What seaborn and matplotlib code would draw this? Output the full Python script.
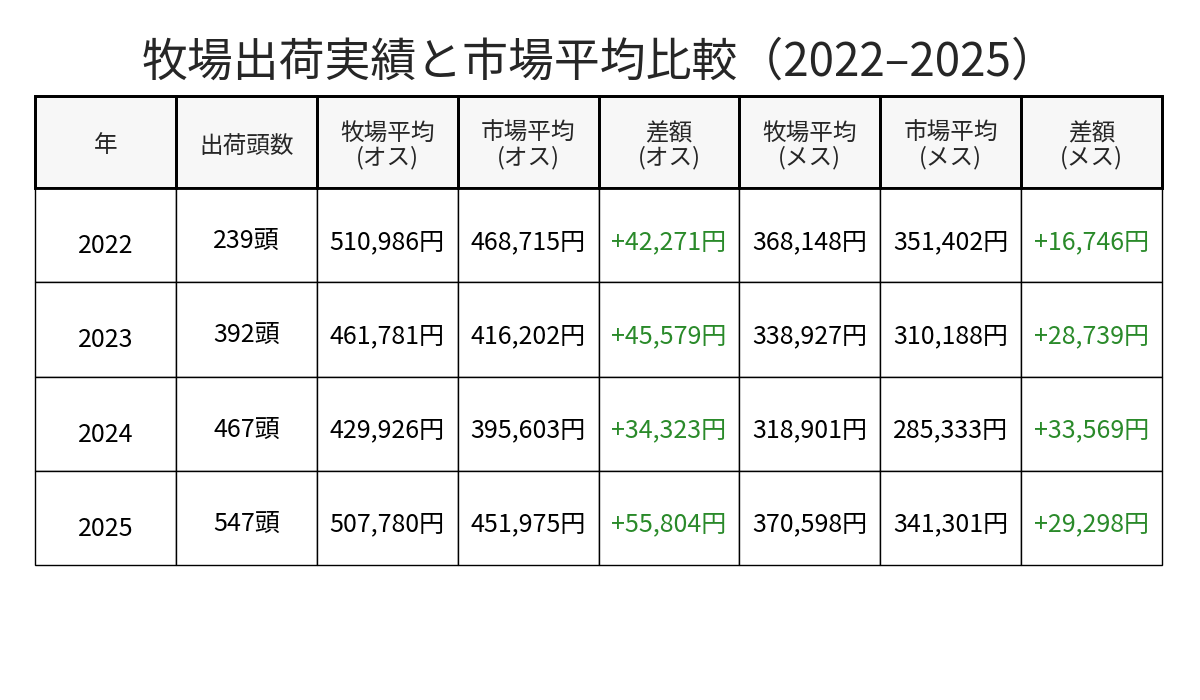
import matplotlib
matplotlib.use("Agg")
import matplotlib.pyplot as plt
import seaborn as sns
from matplotlib.patches import Rectangle

sns.set_theme(style="white")
plt.rcParams['font.family'] = ['Noto Sans CJK JP', 'DejaVu Sans']

# data
headers = ["年", "出荷頭数", "牧場平均\n(オス)", "市場平均\n(オス)", "差額\n(オス)",
           "牧場平均\n(メス)", "市場平均\n(メス)", "差額\n(メス)"]
years = [2022, 2023, 2024, 2025]
heads = [239, 392, 467, 547]
farm_male = [510986, 461781, 429926, 507780]
market_male = [468715, 416202, 395603, 451975]
diff_male = [42271, 45579, 34323, 55804]
farm_female = [368148, 338927, 318901, 370598]
market_female = [351402, 310188, 285333, 341301]
diff_female = [16746, 28739, 33569, 29298]

fig = plt.figure(figsize=(12, 7), dpi=100)
ax = fig.add_axes([0, 0, 1, 1])
ax.set_xlim(0, 1200)
ax.set_ylim(700, 0)
ax.axis("off")

fig.text(0.5, 1 - 62 / 700, "牧場出荷実績と市場平均比較（2022–2025）",
         ha="center", va="center", fontsize=33)

x0, x1 = 35, 1162
ncol = len(headers)
cw = (x1 - x0) / ncol
top, hb, rh = 96, 188, 94.25
green = "#2a8a2a"

# header
for j, h in enumerate(headers):
    ax.add_patch(Rectangle((x0 + j * cw, top), cw, hb - top, facecolor="#f7f7f7",
                           edgecolor="black", lw=2))
    ax.text(x0 + (j + 0.5) * cw, (top + hb) / 2 + 4, h, ha="center", va="center",
            fontsize=17, linespacing=1.05)

for i, y in enumerate(years):
    cells = [(str(y), "black"), (f"{heads[i]}頭", "black"),
             (f"{farm_male[i]:,}円", "black"), (f"{market_male[i]:,}円", "black"),
             (f"+{diff_male[i]:,}円", green), (f"{farm_female[i]:,}円", "black"),
             (f"{market_female[i]:,}円", "black"), (f"+{diff_female[i]:,}円", green)]
    ry = hb + i * rh
    for j, (t, c) in enumerate(cells):
        ax.add_patch(Rectangle((x0 + j * cw, ry), cw, rh, facecolor="white",
                               edgecolor="black", lw=1))
        dy = 58 if j == 0 else 54
        ax.text(x0 + (j + 0.5) * cw, ry + dy, t, ha="center", va="center",
                fontsize=18, color=c)

# redraw header border on top
for j in range(ncol):
    ax.add_patch(Rectangle((x0 + j * cw, top), cw, hb - top, fill=False,
                           edgecolor="black", lw=2))

fig.savefig("out.png", dpi=100)
